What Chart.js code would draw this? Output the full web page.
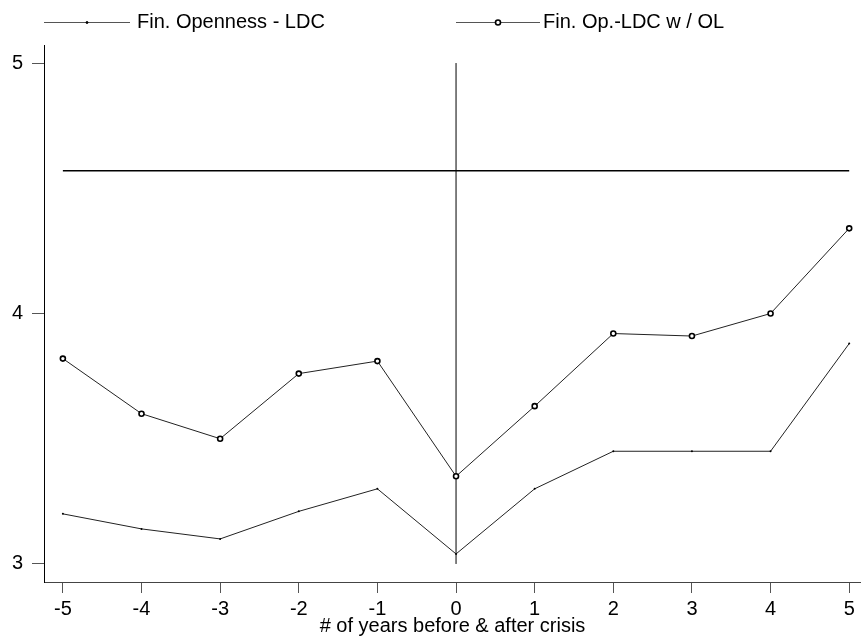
<!DOCTYPE html>
<html>
<head>
<meta charset="utf-8">
<title>Fin. Openness around crisis</title>
<script src="https://cdn.jsdelivr.net/npm/chart.js@4.4.1/dist/chart.umd.min.js"></script>
<style>
    html, body { margin: 0; padding: 0; background: #fff; }
    #chart { display: block; }
</style>
</head>
<body>
<canvas id="chart" width="861" height="641"></canvas>
<script>
// Years before & after crisis
const years = [-5, -4, -3, -2, -1, 0, 1, 2, 3, 4, 5];

// Series values
const finOpenness = [3.20, 3.14, 3.10, 3.21, 3.30, 3.04, 3.30, 3.45, 3.45, 3.45, 3.88];
const finOpennessOL = [3.82, 3.60, 3.50, 3.76, 3.81, 3.35, 3.63, 3.92, 3.91, 4.00, 4.34];

// Reference lines
const refLevel = 4.57;      // horizontal line
const crisisYear = 0;       // vertical line
const crisisSpan = [3, 5];

// Tick labels
const xTicks = [-5, -4, -3, -2, -1, 0, 1, 2, 3, 4, 5];
const yTicks = [3, 4, 5];

const labels = ['Fin. Openness - LDC', 'Fin. Op.-LDC w / OL'];

const FONT = "'Liberation Sans', Arial, sans-serif";

/**
 * Legend drawn on top (line with marker in the middle, then text)
 */
const topLegend = {
    id: 'topLegend',
    afterDraw(chart) {
        const ctx = chart.ctx;
        const items = [
            { x0: 44, x1: 130, tx: 137, ds: chart.data.datasets[0] },
            { x0: 456, x1: 540, tx: 543, ds: chart.data.datasets[1] }
        ];
        const y = 22;
        ctx.save();
        items.forEach(item => {
            ctx.strokeStyle = '#555';
            ctx.lineWidth = 1;
            ctx.beginPath();
            ctx.moveTo(item.x0, y + 0.5);
            ctx.lineTo(item.x1, y + 0.5);
            ctx.stroke();

            const mx = (item.x0 + item.x1) / 2;
            ctx.beginPath();
            ctx.arc(mx, y + 0.5, item.ds.pointRadius, 0, Math.PI * 2);
            ctx.fillStyle = item.ds.pointBackgroundColor;
            ctx.fill();
            ctx.lineWidth = item.ds.pointBorderWidth;
            ctx.strokeStyle = item.ds.pointBorderColor;
            ctx.stroke();

            ctx.fillStyle = '#000';
            ctx.font = '20px ' + FONT;
            ctx.textBaseline = 'alphabetic';
            ctx.textAlign = 'left';
            ctx.fillText(item.ds.label, item.tx, 28);
        });
        ctx.restore();
    }
};

const ctx = document.getElementById('chart');

new Chart(ctx, {
    type: 'line',
    data: {
        datasets: [{
            label: labels[0],
            data: years.map((x, i) => ({ x, y: finOpenness[i] })),
            borderColor: '#222',
            borderWidth: 1,
            pointRadius: 1,
            pointBackgroundColor: '#000',
            pointBorderColor: '#000',
            pointBorderWidth: 0,
            tension: 0
        }, {
            label: labels[1],
            data: years.map((x, i) => ({ x, y: finOpennessOL[i] })),
            borderColor: '#222',
            borderWidth: 1,
            pointRadius: 2.5,
            pointBackgroundColor: '#fff',
            pointBorderColor: '#000',
            pointBorderWidth: 1.6,
            tension: 0
        }, {
            label: 'ref',
            data: [{ x: years[0], y: refLevel }, { x: years[years.length - 1], y: refLevel }],
            borderColor: '#000',
            borderWidth: 1.3,
            pointRadius: 0
        }, {
            label: 'crisis',
            data: [{ x: crisisYear, y: crisisSpan[0] }, { x: crisisYear, y: crisisSpan[1] }],
            borderColor: '#000',
            borderWidth: 1,
            pointRadius: 0
        }]
    },
    options: {
        responsive: false,
        devicePixelRatio: 1,
        animation: false,
        layout: {
            autoPadding: false,
            padding: { top: 45, right: 0, left: 0, bottom: 0 }
        },
        plugins: {
            legend: { display: false },
            tooltip: { enabled: false }
        },
        scales: {
            x: {
                type: 'linear',
                min: -5.24,
                max: 5.15,
                afterBuildTicks: scale => {
                    scale.ticks = xTicks.map(v => ({ value: v }));
                },
                afterFit: scale => {
                    scale.height = 59;
                    scale.paddingLeft = 0;
                    scale.paddingRight = 0;
                },
                grid: {
                    drawOnChartArea: false,
                    drawTicks: true,
                    tickLength: 11,
                    color: '#555'
                },
                border: { display: true, color: '#444', width: 1 },
                ticks: {
                    color: '#000',
                    padding: 4,
                    maxRotation: 0,
                    font: { family: FONT, size: 20 }
                },
                title: {
                    display: true,
                    text: '# of years before & after crisis',
                    color: '#000',
                    padding: { top: 0, bottom: 3 },
                    font: { family: FONT, size: 20 }
                }
            },
            y: {
                type: 'linear',
                min: 2.928,
                max: 5.072,
                afterBuildTicks: scale => {
                    scale.ticks = yTicks.map(v => ({ value: v }));
                },
                afterFit: scale => {
                    scale.width = 44;
                    scale.paddingTop = 0;
                    scale.paddingBottom = 0;
                },
                grid: {
                    drawOnChartArea: false,
                    drawTicks: true,
                    tickLength: 12,
                    color: '#555'
                },
                border: { display: true, color: '#000', width: 1 },
                ticks: {
                    color: '#000',
                    padding: 9,
                    font: { family: FONT, size: 20 }
                }
            }
        }
    },
    plugins: [topLegend]
});
</script>
</body>
</html>
